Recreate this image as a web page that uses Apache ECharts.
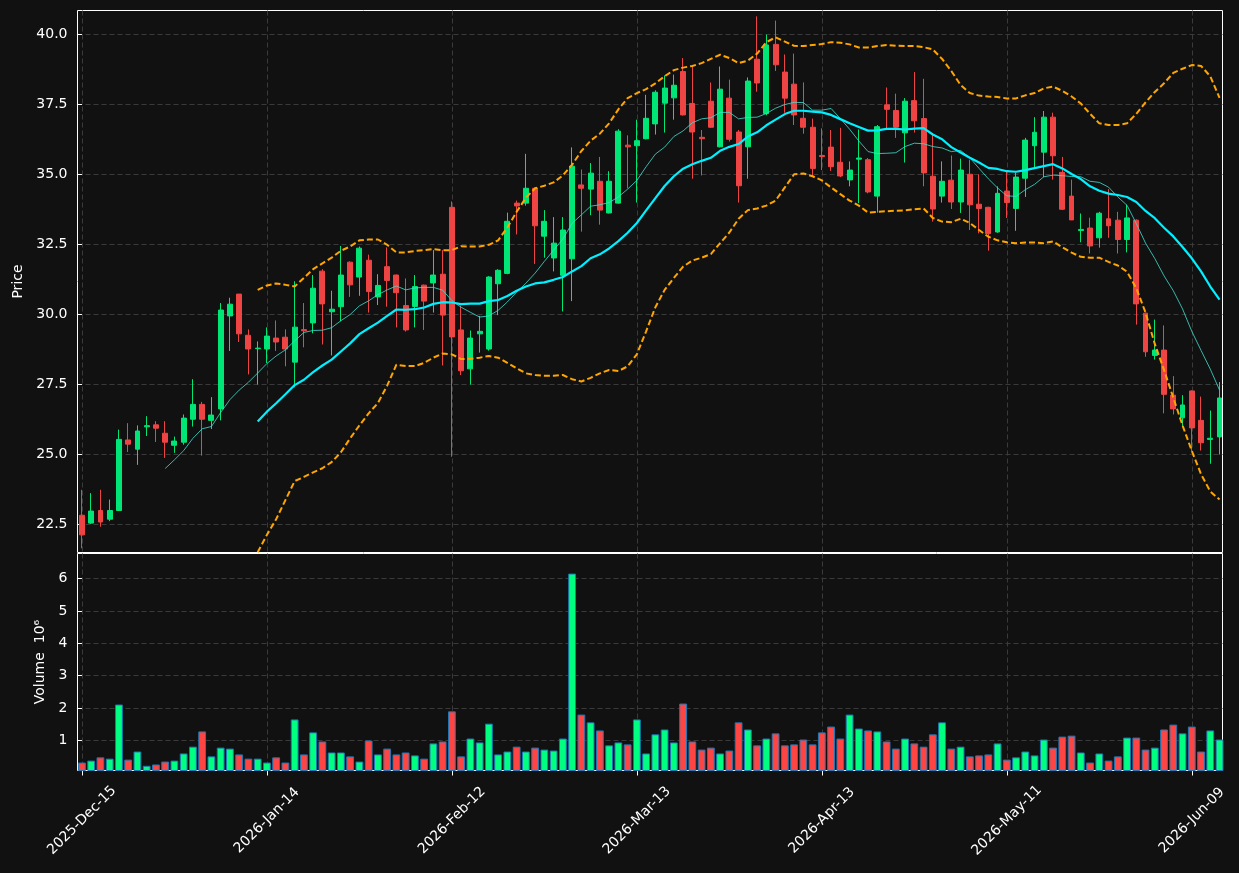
<!DOCTYPE html>
<html>
<head>
<meta charset="utf-8">
<script src="https://cdn.jsdelivr.net/npm/echarts@6/dist/echarts.min.js"></script>
<style>
  html, body { margin: 0; padding: 0; background: #111111; }
  #main { width: 1239px; height: 873px; }
</style>
</head>
<body>
<div id="main"></div>
<script>
// daily OHLC, index 0 = 2025-12-15
var opens = [22.83,22.55,23.00,22.69,23.00,25.52,25.19,25.99,26.06,25.76,
  25.33,25.44,26.26,26.79,26.22,26.63,29.95,30.73,29.26,28.78,
  28.77,29.16,29.19,28.30,29.46,29.70,31.55,30.10,30.28,31.87,
  31.34,31.94,30.63,31.71,31.41,30.32,30.29,31.05,31.13,31.44,
  33.83,29.45,28.06,29.31,28.77,31.10,31.47,33.98,33.98,34.51,
  32.80,32.02,31.40,31.99,34.63,34.48,34.76,33.63,33.98,36.05,
  36.03,36.28,36.81,37.55,37.74,38.68,37.54,36.33,37.62,35.99,
  37.73,36.52,35.99,39.12,37.18,39.65,38.66,38.23,37.01,36.69,
  35.68,35.98,35.44,34.81,35.55,35.53,34.23,37.49,37.29,36.49,
  37.64,37.00,34.94,34.23,34.80,34.02,35.01,33.94,33.83,32.95,
  34.41,33.79,34.87,36.03,35.80,37.05,35.08,34.23,33.00,33.09,
  32.74,33.42,33.37,32.68,33.37,30.05,28.54,28.73,27.12,26.31,
  27.27,26.22,25.54,25.63];
var highs = [23.74,23.62,23.74,23.39,25.89,26.12,26.04,26.37,26.19,26.19,
  25.64,26.43,27.69,26.88,27.05,30.41,30.60,30.73,29.47,29.04,
  29.54,29.79,29.47,31.19,30.41,31.41,31.62,30.85,32.45,31.90,
  32.43,32.14,31.44,32.40,31.43,31.29,31.41,31.07,32.30,32.30,
  34.04,30.32,29.43,29.95,31.37,31.62,33.64,34.07,35.74,34.53,
  33.73,33.48,33.48,35.97,35.18,35.41,35.63,35.12,36.62,36.40,
  36.96,37.85,38.01,38.54,38.57,39.16,38.86,36.59,38.29,38.86,
  38.39,36.59,38.47,40.65,40.00,40.50,39.29,39.32,38.29,37.00,
  36.65,36.59,36.67,35.47,36.61,35.59,36.77,38.11,37.89,37.73,
  38.66,38.42,36.43,35.47,35.68,35.57,35.53,35.01,33.85,34.58,
  35.13,35.07,36.31,37.05,37.27,37.21,35.63,34.82,33.61,33.46,
  33.67,34.48,33.67,33.92,33.40,30.07,29.82,29.61,27.80,27.12,
  27.29,27.07,26.57,27.59];
var lows = [21.65,22.52,22.42,22.62,22.98,25.09,24.63,25.66,25.45,24.88,
  25.06,25.35,26.00,24.96,25.91,26.22,28.70,29.02,27.86,27.50,
  28.27,28.70,28.15,27.40,28.83,29.33,28.93,28.54,29.76,30.63,
  30.67,30.07,30.34,30.28,29.54,29.39,29.54,29.45,30.07,28.18,
  24.92,27.84,27.50,28.64,28.71,29.98,31.44,32.86,33.89,31.81,
  32.03,31.54,30.11,30.48,32.96,33.55,33.21,33.61,33.96,34.51,
  34.00,36.26,36.43,36.50,36.96,37.11,34.85,34.97,36.67,35.97,
  36.18,34.00,34.85,37.96,37.12,38.70,37.21,36.77,36.46,34.95,
  35.16,35.13,34.91,34.58,33.98,34.33,33.64,36.65,36.31,35.43,
  36.50,34.58,33.32,34.00,33.77,33.63,33.02,32.90,32.28,32.92,
  33.45,32.99,34.20,35.22,34.91,34.82,33.73,33.38,32.58,32.18,
  32.39,32.74,32.18,32.22,29.64,28.49,28.39,26.47,26.43,25.97,
  25.11,25.14,24.67,25.00];
var closes = [22.13,22.98,22.59,23.00,25.54,25.37,25.84,26.03,25.94,25.44,
  25.48,26.30,26.79,26.26,26.41,30.16,30.37,29.31,28.77,28.80,
  29.23,29.02,28.77,29.55,29.42,30.94,30.38,30.19,31.41,31.06,
  32.37,30.82,31.04,31.22,30.78,29.45,31.00,30.48,31.41,29.98,
  29.20,27.99,29.16,29.40,31.34,31.58,33.33,33.88,34.51,33.17,
  33.33,32.55,33.02,35.30,34.51,35.05,33.73,34.76,36.55,35.99,
  36.21,37.01,37.94,38.09,38.19,37.13,36.52,36.28,36.69,38.05,
  36.26,34.60,38.34,38.27,39.63,38.92,37.73,37.13,36.69,35.22,
  35.64,35.28,34.95,35.16,35.59,34.38,36.71,37.33,36.69,37.62,
  36.92,35.06,33.77,34.76,34.02,35.16,33.92,33.79,32.89,34.33,
  34.00,34.91,36.23,36.51,37.05,35.67,33.76,33.38,33.04,32.45,
  33.62,33.17,32.68,33.45,30.38,28.67,28.73,27.15,26.63,26.77,
  25.95,25.42,25.58,27.02];
// volume in millions
var volumes = [0.32,0.38,0.48,0.44,2.11,0.41,0.66,0.22,0.26,0.35,
  0.38,0.60,0.81,1.28,0.51,0.78,0.75,0.57,0.44,0.44,
  0.32,0.48,0.32,1.65,0.57,1.25,0.97,0.63,0.63,0.51,
  0.35,1.00,0.57,0.75,0.57,0.63,0.54,0.44,0.91,0.97,
  1.90,0.51,1.06,0.94,1.52,0.57,0.66,0.81,0.66,0.78,
  0.72,0.69,1.06,6.15,1.80,1.56,1.31,0.85,0.94,0.88,
  1.65,0.60,1.19,1.34,0.94,2.14,0.97,0.72,0.78,0.60,
  0.69,1.56,1.34,0.85,1.06,1.22,0.85,0.88,1.03,0.88,
  1.25,1.43,1.06,1.80,1.37,1.31,1.28,0.97,0.75,1.06,
  0.91,0.81,1.19,1.56,0.75,0.81,0.51,0.54,0.57,0.91,
  0.41,0.48,0.66,0.54,1.03,0.78,1.12,1.15,0.63,0.32,
  0.60,0.38,0.51,1.09,1.09,0.72,0.78,1.34,1.49,1.22,
  1.43,0.66,1.31,1.03];

// 10-day average, starts at index 9
var ma10Start = 9;
var ma10 = [24.50,24.81,25.14,25.58,25.92,26.00,26.50,26.96,27.30,27.58,
  27.91,28.25,28.52,28.74,29.06,29.36,29.43,29.44,29.53,29.78,
  30.00,30.31,30.49,30.71,30.88,31.02,30.88,30.95,30.97,30.97,
  30.87,30.50,30.26,30.08,29.91,29.95,30.15,30.45,30.80,31.12,
  31.48,31.90,32.30,32.70,33.26,33.56,33.87,33.92,34.00,34.20,
  34.48,34.79,35.28,35.73,35.98,36.36,36.56,36.85,36.99,37.03,
  37.22,37.22,36.99,37.04,37.05,37.18,37.37,37.50,37.58,37.57,
  37.30,37.30,37.36,37.00,36.62,36.20,35.82,35.75,35.76,35.78,
  36.00,36.12,36.10,36.00,35.95,35.82,35.86,35.60,35.22,34.85,
  34.52,34.24,34.22,34.46,34.65,34.92,34.98,34.96,34.93,34.92,
  34.76,34.72,34.55,34.20,33.90,33.25,32.55,32.00,31.38,30.85,
  30.20,29.40,28.72,28.05,27.30];
// 20-day average and bands, start at index 19
var ma20Start = 19;
var ma20 = [26.18,26.53,26.83,27.15,27.48,27.67,27.94,28.18,28.39,28.68,
  28.97,29.30,29.51,29.71,29.95,30.18,30.17,30.19,30.25,30.38,
  30.44,30.43,30.37,30.39,30.39,30.48,30.52,30.66,30.85,31.00,
  31.11,31.15,31.24,31.34,31.54,31.73,32.01,32.15,32.36,32.62,
  32.92,33.27,33.72,34.16,34.59,34.94,35.21,35.37,35.49,35.60,
  35.85,35.99,36.09,36.36,36.51,36.76,36.96,37.16,37.28,37.28,
  37.25,37.22,37.13,36.98,36.83,36.70,36.57,36.58,36.63,36.63,
  36.61,36.64,36.66,36.43,36.26,35.98,35.79,35.60,35.43,35.24,
  35.20,35.12,35.10,35.16,35.23,35.30,35.37,35.22,35.02,34.84,
  34.58,34.42,34.32,34.27,34.20,34.02,33.70,33.44,33.10,32.79,
  32.41,32.01,31.54,31.00,30.53];
var bbUpper = [30.88,31.04,31.11,31.06,31.00,31.31,31.62,31.83,32.03,32.28,
  32.43,32.65,32.68,32.68,32.49,32.22,32.22,32.27,32.30,32.34,
  32.30,32.30,32.44,32.43,32.43,32.49,32.65,33.11,33.67,34.17,
  34.51,34.60,34.72,34.97,35.35,35.84,36.21,36.46,36.83,37.33,
  37.73,37.91,38.05,38.26,38.51,38.73,38.82,38.88,38.98,39.13,
  39.28,39.16,38.98,39.07,39.32,39.73,39.90,39.75,39.60,39.59,
  39.63,39.66,39.73,39.71,39.65,39.54,39.54,39.59,39.63,39.60,
  39.59,39.59,39.55,39.47,39.13,38.70,38.20,37.91,37.82,37.79,
  37.77,37.72,37.72,37.83,37.91,38.08,38.14,37.99,37.79,37.54,
  37.17,36.83,36.77,36.77,36.83,37.17,37.58,37.95,38.26,38.63,
  38.78,38.91,38.88,38.51,37.74];
var bbLower = [21.51,22.13,22.69,23.37,24.05,24.20,24.36,24.51,24.73,25.08,
  25.58,26.04,26.47,26.84,27.46,28.21,28.16,28.16,28.27,28.46,
  28.61,28.58,28.41,28.42,28.46,28.52,28.46,28.27,28.08,27.90,
  27.84,27.81,27.81,27.84,27.69,27.61,27.74,27.90,28.02,27.98,
  28.15,28.58,29.40,30.26,30.88,31.31,31.71,31.93,32.03,32.16,
  32.55,32.93,33.42,33.73,33.79,33.89,34.07,34.54,35.01,35.04,
  34.94,34.79,34.54,34.30,34.07,33.89,33.64,33.67,33.69,33.71,
  33.72,33.76,33.79,33.45,33.32,33.30,33.42,33.27,33.02,32.78,
  32.65,32.58,32.55,32.57,32.57,32.55,32.61,32.40,32.21,32.06,
  32.03,32.03,31.88,31.75,31.53,30.94,30.07,28.95,28.02,27.03,
  26.04,25.13,24.30,23.68,23.39];

var tickIdx = [0, 20, 40, 60, 80, 100, 120];
var tickLabels = ['2025-Dec-15', '2026-Jan-14', '2026-Feb-12', '2026-Mar-13',
  '2026-Apr-13', '2026-May-11', '2026-Jun-09'];
var priceTicks = [22.5, 25.0, 27.5, 30.0, 32.5, 35.0, 37.5, 40.0];
var volTicks = [1, 2, 3, 4, 5, 6];

var upColor = '#00e676', downColor = '#ef4444';
var volUp = '#00ff80', volDown = '#ff4444';
var font = 'DejaVu Sans';
var gridLine = { show: true, lineStyle: { color: '#3a3a3a', type: [5, 3], width: 1 } };

function series(start, arr) {
  return arr.map(function (v, k) { return [start + k, v]; });
}

var candleData = opens.map(function (o, i) {
  return [i, o, closes[i], lows[i], highs[i]];
});
var volData = volumes.map(function (v, i) {
  return { value: [i, v], itemStyle: { color: closes[i] >= opens[i] ? volUp : volDown } };
});

function xAxisDef(gridIndex, showLabels) {
  return {
    type: 'value', gridIndex: gridIndex, min: -0.48, max: 123.32,
    axisLine: { show: false },
    axisTick: { show: showLabels, customValues: tickIdx, length: 5, lineStyle: { color: '#ffffff' } },
    axisLabel: {
      show: showLabels, customValues: tickIdx, rotate: 45, align: 'center', verticalAlign: 'middle',
      margin: 50, color: '#ffffff', fontFamily: font, fontSize: 14,
      formatter: function (v) { var k = tickIdx.indexOf(Math.round(v)); return k >= 0 ? tickLabels[k] : ''; }
    },
    splitLine: gridLine
  };
}

var chart = echarts.init(document.getElementById('main'));
chart.setOption({
  backgroundColor: '#111111',
  animation: false,
  grid: [
    { left: 77.5, right: 16.5, top: 10.5, height: 542, show: true, borderColor: '#ffffff', borderWidth: 1, backgroundColor: '#111111' },
    { left: 77.5, right: 16.5, top: 553.5, height: 217, show: true, borderColor: '#ffffff', borderWidth: 1, backgroundColor: '#111111' }
  ],
  xAxis: [xAxisDef(0, false), xAxisDef(1, true)],
  yAxis: [
    {
      type: 'value', gridIndex: 0, min: 21.5, max: 40.86,
      name: 'Price', nameLocation: 'middle', nameRotate: 90, nameGap: 52,
      nameTextStyle: { color: '#ffffff', fontFamily: font, fontSize: 14 },
      axisLine: { show: false },
      axisTick: { show: true, customValues: priceTicks, length: 5, lineStyle: { color: '#ffffff' } },
      axisLabel: { customValues: priceTicks, color: '#ffffff', fontFamily: font, fontSize: 14, margin: 10,
        formatter: function (v) { return v.toFixed(1); } },
      splitLine: gridLine
    },
    {
      type: 'value', gridIndex: 1, min: 0.074, max: 6.77,
      name: 'Volume  10\u2076', nameLocation: 'middle', nameRotate: 90, nameGap: 30,
      nameTextStyle: { color: '#ffffff', fontFamily: font, fontSize: 14 },
      axisLine: { show: false },
      axisTick: { show: true, customValues: volTicks, length: 5, lineStyle: { color: '#ffffff' } },
      axisLabel: { customValues: volTicks, color: '#ffffff', fontFamily: font, fontSize: 14, margin: 10 },
      splitLine: gridLine
    }
  ],
  series: [
    {
      type: 'candlestick', xAxisIndex: 0, yAxisIndex: 0, data: candleData, barWidth: '58%',
      itemStyle: { color: upColor, color0: downColor, borderColor: upColor, borderColor0: downColor, borderWidth: 1 }
    },
    {
      type: 'line', xAxisIndex: 0, yAxisIndex: 0, data: series(ma10Start, ma10), showSymbol: false, z: 3,
      lineStyle: { color: '#40e0d0', width: 1, opacity: 0.8 }
    },
    {
      type: 'line', xAxisIndex: 0, yAxisIndex: 0, data: series(ma20Start, ma20), showSymbol: false, z: 3,
      lineStyle: { color: '#00f0ff', width: 2.2 }
    },
    {
      type: 'line', xAxisIndex: 0, yAxisIndex: 0, data: series(ma20Start, bbUpper), showSymbol: false, z: 3,
      lineStyle: { color: '#ffa500', width: 2, type: [6, 3] }
    },
    {
      type: 'line', xAxisIndex: 0, yAxisIndex: 0, data: series(ma20Start, bbLower), showSymbol: false, z: 3,
      lineStyle: { color: '#ffa500', width: 2, type: [6, 3] }
    },
    {
      type: 'bar', xAxisIndex: 1, yAxisIndex: 1, data: volData, barWidth: 7.8,
      itemStyle: { borderColor: '#1f77b4', borderWidth: 1 }
    }
  ]
});
</script>
</body>
</html>
